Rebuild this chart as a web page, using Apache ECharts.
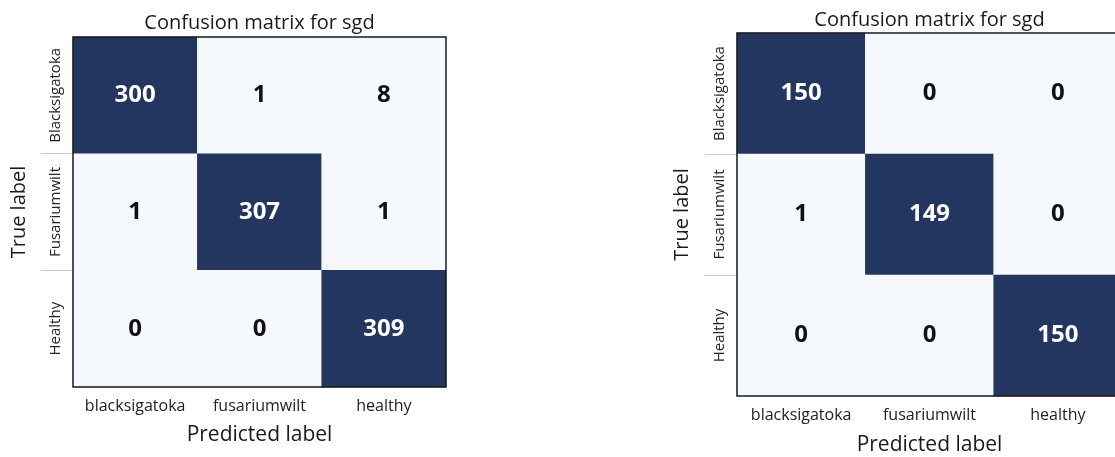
<!DOCTYPE html>
<html>
<head>
<meta charset="utf-8">
<script src="https://cdn.jsdelivr.net/npm/echarts@6/dist/echarts.min.js"></script>
<style>
  html, body { margin: 0; padding: 0; background: #ffffff; }
  #chart { width: 1115px; height: 457px; }
</style>
</head>
<body>
<div id="chart"></div>
<script>
// Class names on each axis
const predictedLabels = ['blacksigatoka', 'fusariumwilt', 'healthy'];
const trueLabels = ['Blacksigatoka', 'Fusariumwilt', 'Healthy'];

// Confusion matrices: rows = true class, columns = predicted class
const matrixLeft = [
  [300, 1, 8],
  [1, 307, 1],
  [0, 0, 309]
];
const matrixRight = [
  [150, 0, 0],
  [1, 149, 0],
  [0, 0, 150]
];

const titleText = 'Confusion matrix for sgd';
const FONT = '"Open Sans", "DejaVu Sans", sans-serif';
const LIGHT = '#f5f9fe';
const PALE = '#f1f6fc';
const DARK = '#223660';

function toCells(matrix) {
  const cells = [];
  matrix.forEach((row, r) => row.forEach((v, c) => cells.push([c, r, v])));
  return cells;
}
function maxOf(matrix) {
  return Math.max(...matrix.map(r => Math.max(...r)));
}

// Row boundaries between the true-label bands (where the short left ticks go)
const rowBoundaries = trueLabels.slice(1).map((_, i) => i + 1);

// The second panel runs past the right edge of the canvas
const panels = [
  { matrix: matrixLeft, grid: { left: 73, top: 37, width: 373, height: 350 }, titleTop: 13, nameGapX: 38, nameGapY: 44 },
  { matrix: matrixRight, grid: { left: 737, top: 33, width: 385, height: 363 }, titleTop: 10, nameGapX: 39, nameGapY: 45 }
];

const yAxes = [];
panels.forEach((p, i) => {
  yAxes.push({
    type: 'category',
    gridIndex: i,
    data: trueLabels,
    inverse: true,
    axisLine: { show: false },
    axisTick: { show: false },
    splitLine: { show: false },
    axisLabel: { interval: 0, rotate: 90, margin: 10, fontFamily: FONT, fontSize: 15, color: '#222' },
    name: 'True label',
    nameLocation: 'middle',
    nameGap: p.nameGapY,
    nameRotate: 90,
    nameTextStyle: { fontFamily: FONT, fontSize: 20, color: '#1a1a1a' }
  });
});
// Companion value axes that only draw the band separators on the left
panels.forEach((p, i) => {
  yAxes.push({
    type: 'value',
    gridIndex: i,
    min: 0,
    max: trueLabels.length,
    inverse: true,
    position: 'left',
    axisLine: { show: false },
    axisLabel: { show: false },
    splitLine: { show: false },
    axisTick: {
      show: true,
      length: 32,
      customValues: rowBoundaries,
      lineStyle: { color: '#c8c8c8', width: 1 }
    }
  });
});

const option = {
  backgroundColor: '#ffffff',
  animation: false,
  title: panels.map(p => ({
    text: titleText,
    left: p.grid.left + p.grid.width / 2,
    top: p.titleTop,
    textAlign: 'center',
    padding: 0,
    textStyle: { fontFamily: FONT, fontSize: 20, fontWeight: 'normal', color: '#1a1a1a' }
  })),
  grid: panels.map(p => Object.assign({
    show: true,
    z: 5,
    outerBoundsMode: 'none',
    containLabel: false,
    borderColor: '#1a1a1a',
    borderWidth: 1.5,
    backgroundColor: 'transparent'
  }, p.grid)),
  xAxis: panels.map((p, i) => ({
    type: 'category',
    gridIndex: i,
    data: predictedLabels,
    position: 'bottom',
    axisLine: { show: false },
    axisTick: { show: false },
    splitLine: { show: false },
    axisLabel: { interval: 0, margin: 11, fontFamily: FONT, fontSize: 16, color: '#222' },
    name: 'Predicted label',
    nameLocation: 'middle',
    nameGap: p.nameGapX,
    nameTextStyle: { fontFamily: FONT, fontSize: 21, color: '#1a1a1a' }
  })),
  yAxis: yAxes,
  visualMap: panels.map((p, i) => ({
    type: 'continuous',
    show: false,
    seriesIndex: i,
    min: 0,
    max: maxOf(p.matrix),
    inRange: { color: [LIGHT, PALE, DARK, DARK] }
  })),
  series: panels.map((p, i) => {
    const half = maxOf(p.matrix) / 2;
    return {
      type: 'heatmap',
      xAxisIndex: i,
      yAxisIndex: i,
      z: 2,
      data: toCells(p.matrix),
      label: {
        show: true,
        formatter: (d) => (d.value[2] > half ? '{w|' : '{b|') + d.value[2] + '}',
        rich: {
          w: { color: '#ffffff', fontFamily: FONT, fontSize: 24, fontWeight: 'bold' },
          b: { color: '#111111', fontFamily: FONT, fontSize: 24, fontWeight: 'bold' }
        }
      },
      itemStyle: { borderWidth: 0 },
      emphasis: { disabled: true }
    };
  })
};

const chart = echarts.init(document.getElementById('chart'), null, { renderer: 'canvas' });
chart.setOption(option);
</script>
</body>
</html>
